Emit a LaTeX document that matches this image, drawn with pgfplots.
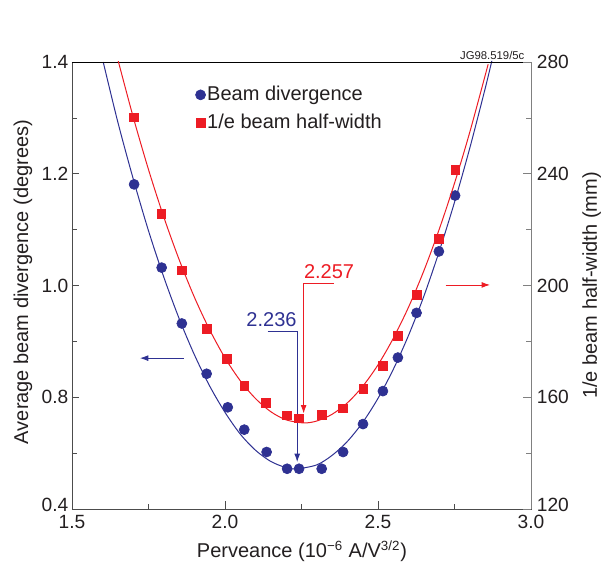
\documentclass[border=0pt]{standalone}
\usepackage{pgfplots}
\pgfplotsset{compat=1.18}
\usepackage{fontspec}
\setmainfont{Liberation Sans}
\usetikzlibrary{arrows.meta}

\definecolor{jblue}{RGB}{46,49,146}
\definecolor{jred}{RGB}{237,28,36}
\definecolor{txt}{RGB}{35,31,32}

\begin{document}
\begin{tikzpicture}
\useasboundingbox (-43.2pt,-34.2pt) rectangle (321.6pt,305.4pt);
\pgfplotsset{
  every axis/.append style={
    scale only axis,
    width=275.4pt, height=268.2pt,
    xmin=1.5, xmax=3.0,
    tick align=inside,
    major tick length=4.5pt,
    minor tick length=3pt,
    tick label style={font=\fontsize{11.5}{13}\selectfont, text=txt},
    label style={font=\fontsize{12}{14}\selectfont, text=txt},
  },
}
% left axis: beam divergence
\begin{axis}[
    ymin=0.6, ymax=1.4,
    clip=false,
    axis line style={black!70},
    every tick/.style={black!70},
    xtick={1.5,2.0,2.5,3.0},
    xticklabels={1.5,2.0,2.5,3.0},
    minor xtick={1.75,2.25,2.75},
    xtick pos=bottom,
    ytick={0.6,0.8,1.0,1.2,1.4},
    yticklabels={\raisebox{5.3pt}{0.4},0.8,1.0,1.2,1.4},
    minor ytick={0.7,0.9,1.1,1.3},
    ytick pos=left,
    yticklabel style={inner sep=2pt},
    xlabel={Perveance (10\textsuperscript{−6} A/V\textsuperscript{3/2})},
    xlabel style={at={(axis description cs:0.501,-0.094)}, anchor=center},
    ylabel={Average beam divergence (degrees)},
    ylabel style={at={(axis description cs:-0.107,0.508)}, anchor=center},
    legend style={draw=none, fill=none, inner sep=0pt,
      at={(axis description cs:0.2685,0.95)}, anchor=north west,
      font=\fontsize{12}{14}\selectfont, text=txt,
      nodes={inner sep=1pt}, row sep=4.5pt},
    legend cell align=left,
    legend image code/.code={\draw[mark repeat=2,mark phase=2,#1]
      plot coordinates {(0cm,0cm)(0.15cm,0cm)(0.4cm,0cm)};},
]
\addplot[jblue, line width=0.6pt, smooth, forget plot] coordinates {
  (1.602,1.400) (1.65,1.292) (1.70,1.191) (1.75,1.098) (1.80,1.015)
  (1.85,0.941) (1.90,0.876) (1.95,0.820) (2.00,0.773) (2.05,0.734)
  (2.10,0.705) (2.15,0.685) (2.20,0.674) (2.236,0.672) (2.30,0.679)
  (2.35,0.696) (2.40,0.721) (2.45,0.755) (2.50,0.798) (2.55,0.850)
  (2.60,0.911) (2.65,0.981) (2.70,1.061) (2.75,1.149) (2.80,1.246)
  (2.85,1.352) (2.872,1.402)
};
\addplot[only marks, mark=*, mark size=3pt, jblue] coordinates {
  (1.703,1.181) (1.793,1.032) (1.859,0.932) (1.940,0.842) (2.009,0.782)
  (2.063,0.742) (2.136,0.702) (2.203,0.672) (2.242,0.672) (2.316,0.672)
  (2.386,0.702) (2.451,0.752) (2.516,0.811) (2.565,0.871) (2.626,0.951)
  (2.699,1.061) (2.752,1.161)
};
\addlegendentry{Beam divergence}
\addlegendimage{only marks, mark=square*, mark size=2.6pt, jred}
\addlegendentry{1/e beam half-width}

% annotations
\node[text=jblue, font=\fontsize{12}{14}\selectfont] at (axis cs:2.152,0.939) {2.236};
\draw[jblue, line width=0.5pt, -{Latex[length=5pt,width=3.5pt]}]
  (axis cs:2.1395,0.918) -- (axis cs:2.236,0.918) -- (axis cs:2.236,0.684);
\node[text=jred, font=\fontsize{12}{14}\selectfont] at (axis cs:2.340,1.024) {2.257};
\draw[jred, line width=0.5pt, -{Latex[length=5pt,width=3.5pt]}]
  (axis cs:2.356,1.004) -- (axis cs:2.257,1.004) -- (axis cs:2.257,0.771);
\draw[jblue, line width=0.5pt, -{Latex[length=5pt,width=3.5pt]}]
  (axis cs:1.866,0.870) -- (axis cs:1.722,0.870);
\draw[jred, line width=0.5pt, -{Latex[length=5pt,width=3.5pt]}]
  (axis cs:2.721,1.001) -- (axis cs:2.866,1.001);
\draw[black, line width=0.6pt] (rel axis cs:0,1) -- (rel axis cs:1,1);
\node[anchor=south east, font=\fontsize{6.8}{8}\selectfont, text=txt, inner sep=1pt]
  at (rel axis cs:0.99,1) {JG98.519/5c};
\end{axis}

% right axis: 1/e beam half-width
\begin{axis}[
    ymin=120, ymax=280,
    axis x line=none,
    axis y line*=right,
    axis line style={black!50},
    every tick/.style={black!50},
    ytick={120,160,200,240,280},
    yticklabels={\raisebox{5.3pt}{120},160,200,240,280},
    minor ytick={140,180,220,260},
    ylabel={1/e beam half-width (mm)},
    ylabel style={at={(axis description cs:1.132,0.5)}, anchor=center},
]
\addplot[jred, line width=0.6pt, smooth] coordinates {
  (1.651,280.4) (1.70,260.3) (1.75,241.5) (1.80,224.5) (1.85,209.3)
  (1.90,195.8) (1.95,184.1) (2.00,174.1) (2.05,165.9) (2.10,159.5)
  (2.15,154.8) (2.20,151.9) (2.257,150.8) (2.30,151.5) (2.35,153.9)
  (2.40,158.0) (2.45,163.9) (2.50,171.6) (2.55,181.1) (2.60,192.3)
  (2.65,205.3) (2.70,220.1) (2.75,236.6) (2.80,254.9) (2.86,279.2)
};
\addplot[only marks, mark=square*, mark size=2.6pt, jred] coordinates {
  (1.703,260.2) (1.792,225.6) (1.859,205.4) (1.941,184.5) (2.007,173.8)
  (2.063,164.2) (2.134,157.9) (2.203,153.5) (2.242,152.4) (2.316,153.8)
  (2.386,156.0) (2.452,163.1) (2.516,171.3) (2.565,181.9) (2.626,196.7)
  (2.699,216.8) (2.753,241.3)
};
\end{axis}
\end{tikzpicture}
\end{document}
